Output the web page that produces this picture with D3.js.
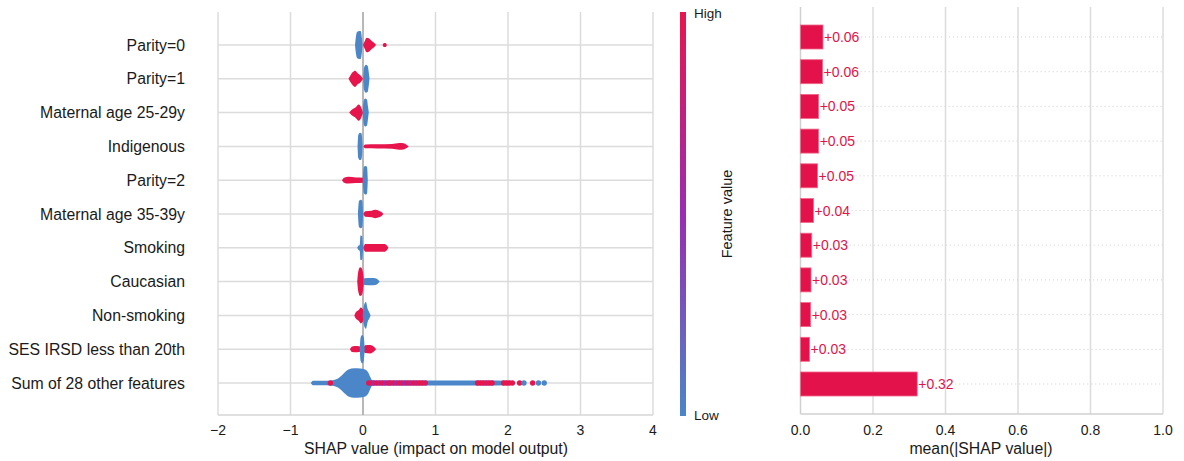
<!DOCTYPE html>
<html lang="en">
<head>
<meta charset="UTF-8">
<script src="https://d3js.org/d3.v7.min.js"></script>
<title>SHAP summary</title>
<style>
  body { margin: 0; background: #fff; font-family: "Liberation Sans", Arial, sans-serif; }
</style>
</head>
<body>
<script>
// feature order (top to bottom)
const features = ["Parity=0", "Parity=1", "Maternal age 25-29y", "Indigenous", "Parity=2",
  "Maternal age 35-39y", "Smoking", "Caucasian", "Non-smoking", "SES IRSD less than 20th",
  "Sum of 28 other features"];

// mean(|SHAP value|) per feature
const meanAbs = [0.062, 0.061, 0.050, 0.050, 0.047, 0.036, 0.031, 0.029, 0.028, 0.025, 0.322];

// beeswarm outlines per feature: [shap value, relative thickness 0-100]
const blueShape = [
  [[[-0.11,0],[-0.10,50],[-0.08,95],[-0.05,100],[-0.03,98],[-0.015,50],[-0.006,0]]],
  [[[0.002,0],[0.015,80],[0.04,100],[0.065,92],[0.08,45],[0.09,0]]],
  [[[-0.004,0],[0.01,85],[0.03,100],[0.055,92],[0.07,40],[0.08,0]]],
  [[[-0.075,0],[-0.065,82],[-0.04,98],[-0.02,92],[-0.006,0]]],
  [[[-0.004,0],[0.01,92],[0.03,102],[0.055,96],[0.066,0]]],
  [[[-0.07,0],[-0.055,92],[-0.03,102],[-0.01,92],[0.002,0]]],
  [[[-0.08,0],[-0.065,14],[-0.045,22],[-0.035,88],[-0.012,84],[0.0,22],[0.014,0]]],
  [[[0.0,0],[0.02,24],[0.12,26],[0.17,24],[0.21,12],[0.23,0]]],
  [[[-0.004,0],[0.01,65],[0.04,95],[0.065,45],[0.09,18],[0.105,0]]],
  [[[-0.045,0],[-0.032,85],[-0.01,102],[0.01,85],[0.024,0]]],
  [[[-0.72,0],[-0.69,16],[-0.5,16],[-0.42,20],[-0.34,34],[-0.27,66],[-0.2,96],[-0.12,106],
    [-0.04,104],[0.03,96],[0.07,76],[0.1,42],[0.13,18],[0.3,17],[1.0,17],[1.6,17],[2.05,15],[2.1,0]]]
];
const redShape = [
  [[[0.0,0],[0.02,24],[0.05,52],[0.08,48],[0.12,28],[0.16,12],[0.18,0]],
   [[0.27,0],[0.29,15],[0.31,15],[0.33,0]]],
  [[[-0.20,0],[-0.18,18],[-0.14,48],[-0.11,58],[-0.07,38],[-0.03,22],[0.0,0]]],
  [[[-0.19,0],[-0.16,18],[-0.10,38],[-0.06,58],[-0.03,42],[0.0,0]]],
  [[[0.005,0],[0.03,14],[0.2,15],[0.4,17],[0.5,24],[0.56,22],[0.6,12],[0.63,0]]],
  [[[-0.29,0],[-0.26,18],[-0.2,24],[-0.1,20],[0.0,18],[0.01,0]]],
  [[[0.005,0],[0.03,20],[0.12,24],[0.17,30],[0.22,24],[0.26,12],[0.28,0]]],
  [[[0.005,0],[0.03,28],[0.2,28],[0.3,28],[0.33,16],[0.35,0]]],
  [[[-0.08,0],[-0.065,72],[-0.04,102],[-0.02,97],[0.0,62],[0.014,0]]],
  [[[-0.12,0],[-0.1,22],[-0.06,38],[-0.03,57],[0.0,42],[0.012,0]]],
  [[[-0.18,0],[-0.15,20],[-0.08,22],[-0.03,17],[-0.02,0]],
   [[0.0,0],[0.03,28],[0.1,30],[0.15,17],[0.18,0]]],
  []
];
// single dots on the "Sum of 28 other features" row: [shap value, feature value 0-1]
const sumDots = [[-0.45,1],[0.08,1],[0.12,0.9],[0.15,0.6],[0.19,1],[0.23,0.7],[0.27,1],[0.31,0.5],
  [0.35,1],[0.38,0.8],[0.42,1],[0.46,0.6],[0.5,1],[0.54,0.9],[0.58,0.5],[0.62,1],[0.66,0.7],
  [0.7,1],[0.74,0.8],[0.78,1],[0.82,1],[0.86,0.9],[1.58,1],[1.62,1],[1.66,1],[1.7,0.9],
  [1.74,1],[1.78,1],[1.94,1],[1.98,1],[2.02,1],[2.06,1],[2.16,1],[2.22,0],[2.34,1],[2.42,0],[2.5,0]];

const shapTicks = [-2, -1, 0, 1, 2, 3, 4];
const barTicks = [0, 0.2, 0.4, 0.6, 0.8, 1.0];

const W = 1184, H = 461;
const red = "#e8154d", blue = "#4a86c8";

const svg = d3.select("body").append("svg").attr("width", W).attr("height", H);

// ---------- left: beeswarm ----------
const x = d3.scaleLinear().domain([-2, 4]).range([218, 653]);
const y = d3.scalePoint().domain(features).range([45, 383]);
const yTop = 12, yBottom = 415;
const thick = d3.scaleLinear().domain([0, 100]).range([0, 14]);
const color = d3.scaleLinear().domain([0, 0.5, 1]).range([blue, "#9a2cb2", red]);

const left = svg.append("g");

left.selectAll("line.vg").data(shapTicks).join("line")
  .attr("x1", d => x(d)).attr("x2", d => x(d))
  .attr("y1", yTop).attr("y2", yBottom)
  .attr("stroke", "#dcdcdc").attr("stroke-width", 1.5);

left.selectAll("line.hg").data(features).join("line")
  .attr("x1", x(-2)).attr("x2", x(4))
  .attr("y1", d => y(d)).attr("y2", d => y(d))
  .attr("stroke", "#dcdcdc").attr("stroke-width", 1.5);

left.append("line")
  .attr("x1", x(-2)).attr("x2", x(4)).attr("y1", yBottom).attr("y2", yBottom)
  .attr("stroke", "#d6d6d6").attr("stroke-width", 1.5);

left.append("line")
  .attr("x1", x(0)).attr("x2", x(0)).attr("y1", yTop).attr("y2", yBottom)
  .attr("stroke", "#a8a8a8").attr("stroke-width", 1.5);

function blob(row) {
  const cy = y(features[row]);
  return d3.area()
    .x(d => x(d[0]))
    .y0(d => cy - thick(d[1]))
    .y1(d => cy + thick(d[1]))
    .curve(d3.curveMonotoneX);
}

features.forEach((f, i) => {
  redShape[i].forEach(s => left.append("path").attr("d", blob(i)(s)).attr("fill", red));
  blueShape[i].forEach(s => left.append("path").attr("d", blob(i)(s)).attr("fill", blue));
});

left.selectAll("circle.dot").data(sumDots).join("circle")
  .attr("cx", d => x(d[0]))
  .attr("cy", y(features[10]))
  .attr("r", 2.7)
  .attr("fill", d => color(d[1]));

left.selectAll("text.lab").data(features).join("text")
  .attr("x", 185).attr("y", d => y(d))
  .attr("text-anchor", "end").attr("dominant-baseline", "central")
  .attr("font-size", 15.8).attr("fill", "#1a1a1a")
  .text(d => d);

left.selectAll("text.tick").data(shapTicks).join("text")
  .attr("x", d => x(d)).attr("y", 435)
  .attr("text-anchor", "middle").attr("font-size", 14).attr("fill", "#1a1a1a")
  .text(d => d3.format("d")(d));

left.append("text")
  .attr("x", 436).attr("y", 454).attr("text-anchor", "middle")
  .attr("font-size", 15.8).attr("fill", "#1a1a1a")
  .text("SHAP value (impact on model output)");

// colour bar
const defs = svg.append("defs");
const grad = defs.append("linearGradient").attr("id", "cb")
  .attr("x1", 0).attr("y1", 1).attr("x2", 0).attr("y2", 0);
d3.range(0, 1.01, 0.1).forEach(t => grad.append("stop").attr("offset", t).attr("stop-color", color(t)));

svg.append("rect").attr("x", 680).attr("y", yTop).attr("width", 6).attr("height", yBottom - yTop + 1)
  .attr("fill", "url(#cb)");
svg.append("text").attr("x", 694).attr("y", 18).attr("font-size", 13.5).attr("fill", "#1a1a1a").text("High");
svg.append("text").attr("x", 694).attr("y", 420).attr("font-size", 13.5).attr("fill", "#1a1a1a").text("Low");
svg.append("text").attr("transform", "translate(732,214) rotate(-90)")
  .attr("text-anchor", "middle").attr("font-size", 14.5).attr("fill", "#1a1a1a").text("Feature value");

// ---------- right: mean |SHAP| bars ----------
const bx = d3.scaleLinear().domain([0, 1]).range([800.5, 1163]);
const by = d3.scalePoint().domain(features).range([37, 384]);
const bTop = 7, bBottom = 414, barH = 24;
const right = svg.append("g");

right.selectAll("line.vg").data(barTicks.slice(1)).join("line")
  .attr("x1", d => bx(d)).attr("x2", d => bx(d))
  .attr("y1", bTop).attr("y2", bBottom)
  .attr("stroke", "#dcdcdc").attr("stroke-width", 1.5);

right.append("line").attr("x1", bx(0)).attr("x2", bx(0)).attr("y1", bTop).attr("y2", bBottom)
  .attr("stroke", "#d0d0d0").attr("stroke-width", 1.5);
right.append("line").attr("x1", bx(0)).attr("x2", bx(1)).attr("y1", bBottom).attr("y2", bBottom)
  .attr("stroke", "#d0d0d0").attr("stroke-width", 1.5);

const fmt = d3.format("+.2f");

right.selectAll("line.dot").data(features).join("line")
  .attr("x1", (d, i) => bx(meanAbs[i]) + 38).attr("x2", bx(1))
  .attr("y1", d => by(d)).attr("y2", d => by(d))
  .attr("stroke", "#cfcfcf").attr("stroke-width", 1).attr("stroke-dasharray", "1,3");

right.selectAll("rect.bar").data(features).join("rect")
  .attr("x", bx(0)).attr("y", d => by(d) - barH / 2)
  .attr("width", (d, i) => bx(meanAbs[i]) - bx(0)).attr("height", barH)
  .attr("fill", "#e3124b").attr("stroke", "#ee6a8a").attr("stroke-width", 0.8);

right.selectAll("text.val").data(features).join("text")
  .attr("x", (d, i) => bx(meanAbs[i]) + 1).attr("y", d => by(d))
  .attr("dominant-baseline", "central").attr("font-size", 14).attr("fill", "#e3124b")
  .text((d, i) => fmt(meanAbs[i]));

right.selectAll("text.tick").data(barTicks).join("text")
  .attr("x", d => bx(d)).attr("y", 435)
  .attr("text-anchor", "middle").attr("font-size", 14).attr("fill", "#1a1a1a")
  .text(d => d3.format(".1f")(d));

right.append("text")
  .attr("x", 981).attr("y", 454).attr("text-anchor", "middle")
  .attr("font-size", 15.8).attr("fill", "#1a1a1a")
  .text("mean(|SHAP value|)");
</script>
</body>
</html>
